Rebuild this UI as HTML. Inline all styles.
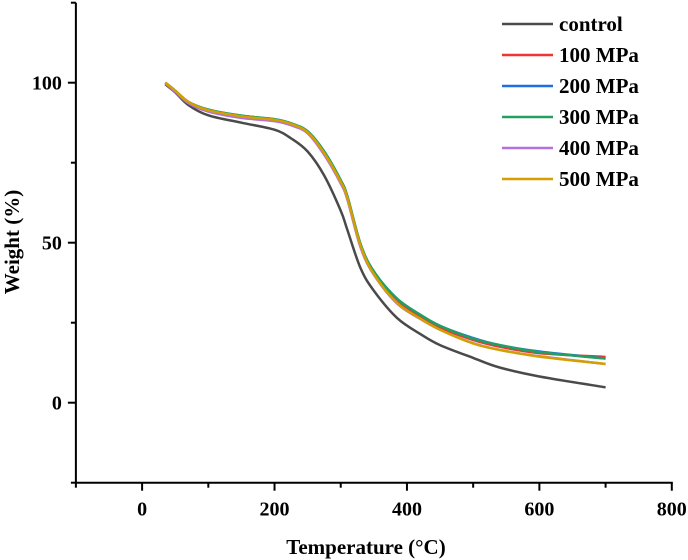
<!DOCTYPE html>
<html><head><meta charset="utf-8"><style>
body{margin:0;background:#fff}
svg{display:block;font-family:"Liberation Serif",serif;font-weight:bold}
</style></head><body>
<svg id="c" width="688" height="560"></svg>
<script>
const temps=[35,50,70,100,150,200,225,250,275,300,310,330,350,385,420,450,500,540,600,700];
const control=[99.5,97,93,89.8,87.5,85.3,82.6,78.5,71,60,54,42,35,26.5,21.5,18,14,11,8.2,4.8];
const mpa100=[100,97.5,94,91.5,89.5,88.3,87,84.5,78,69,64,49,40.5,32,27,23.5,19.6,17.5,15.5,14.3];
const mpa200=[100,97.5,94,91.6,89.7,88.6,87.3,84.8,78.5,69.5,64.5,49.5,41,32.5,27.5,24,20.2,18,16,13.8];
const mpa300=[100,97.5,94,91.6,89.7,88.6,87.3,84.8,78.5,69.5,64.5,49.5,41,32.5,27.5,24,20,18,15.8,13.8];
const mpa400=[99.8,97.2,93.6,91,89,88,86.7,84.2,77.5,68.5,63.5,48.5,40,31,26.2,22.8,18.6,16.5,14.5,12.1];
const mpa500=[100,97.5,94,91.4,89.5,88.4,87.1,84.5,78,69,64,49,40.2,31.2,26.3,22.8,18.5,16.5,14.4,12.1];
const seriesNames=["control","100 MPa","200 MPa","300 MPa","400 MPa","500 MPa"];
const seriesData=[control,mpa100,mpa200,mpa300,mpa400,mpa500];
const colors=["#4a4a4a","#ee3333","#1f6fe0","#22a060","#b070e0","#d4a000"];
const xTicks=[0,200,400,600,800];
const yTicks=[0,50,100];
const NS="http://www.w3.org/2000/svg";
const svg=document.getElementById('c');
const X=v=>142.1+(v-0)*(671.8-142.1)/800;
const Y=v=>402.7-v*3.2;
function mk(t,a,p){const e=document.createElementNS(NS,t);for(const k in a)e.setAttribute(k,a[k]);(p||svg).appendChild(e);return e;}
const x0=X(-100),yb=Y(-25),yt=Y(125);
const axes=mk('g',{});


mk('line',{x1:x0,y1:yt,x2:x0,y2:yb+1,stroke:'#000','stroke-width':2},axes);
mk('line',{x1:x0-1,y1:yb,x2:X(800)+1,y2:yb,stroke:'#000','stroke-width':2},axes);
for(let v=-100;v<=800;v+=100){const major=xTicks.includes(v);mk('line',{x1:X(v),y1:yb,x2:X(v),y2:yb+(major?8:5),stroke:'#000','stroke-width':2},axes);}
for(let v=-25;v<=125;v+=25){const major=yTicks.includes(v);mk('line',{x1:x0,y1:Y(v),x2:x0-(major?8:5),y2:Y(v),stroke:'#000','stroke-width':2},axes);}
xTicks.forEach(v=>{const t=mk('text',{x:X(v),y:yb+33,'text-anchor':'middle','font-size':20},axes);t.textContent=v;

});
yTicks.forEach(v=>{const t=mk('text',{x:x0-14,y:Y(v)+7,'text-anchor':'end','font-size':20},axes);t.textContent=v;

});
const xt=mk('text',{x:366,y:554,'text-anchor':'middle','font-size':21});xt.textContent='Temperature (\u00B0C)';


const yt2=mk('text',{x:0,y:0,'text-anchor':'middle','font-size':21,transform:'translate(19,242) rotate(-90)'});yt2.textContent='Weight (%)';


function pathFor(d){const p=temps.map((t,i)=>[X(t),Y(d[i])]);let s='M'+p[0][0]+','+p[0][1];
for(let i=0;i<p.length-1;i++){const a=p[i-1]||p[i],b=p[i],c=p[i+1],e=p[i+2]||c;
s+=' C'+(b[0]+(c[0]-a[0])/6)+','+(b[1]+(c[1]-a[1])/6)+' '+(c[0]-(e[0]-b[0])/6)+','+(c[1]-(e[1]-b[1])/6)+' '+c[0]+','+c[1];}return s;}
seriesData.forEach((d,i)=>{const p=mk('path',{d:pathFor(d),fill:'none',stroke:colors[i],'stroke-width':2.5,'stroke-linejoin':'round'});

});
const lg=mk('g',{});


seriesNames.forEach((n,i)=>{const y=24+i*31;const g=mk('g',{},lg);


mk('line',{x1:502,y1:y,x2:553,y2:y,stroke:colors[i],'stroke-width':2.5},g);
const t=mk('text',{x:559,y:y+7,'font-size':21},g);t.textContent=n;});
</script>
</body></html>
